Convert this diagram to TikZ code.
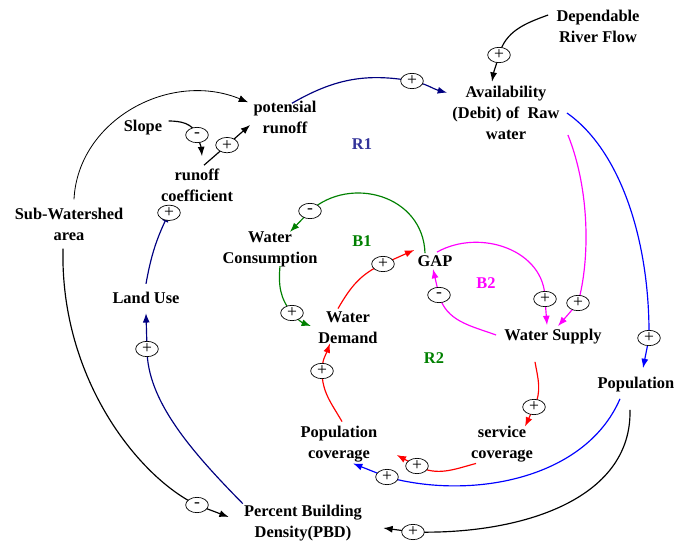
\documentclass[tikz,border=0pt]{standalone}
\usepackage{fontspec}
\setmainfont{Liberation Serif}
\usetikzlibrary{shapes.geometric,arrows.meta}
\definecolor{navy}{RGB}{0,0,128}
\definecolor{loopblue}{RGB}{51,51,153}
\definecolor{cldgreen}{RGB}{0,128,0}
\definecolor{cldmagenta}{RGB}{255,0,255}

\begin{document}
\begin{tikzpicture}[
    x=0.03cm, y=0.03cm,
    >={Latex[length=8pt,width=6pt]},
    var/.style = {align=center, font=\fontsize{14}{18}\selectfont\bfseries, inner sep=1pt},
    sign/.style = {ellipse, draw=black, text=black, fill=white, line width=0.6pt, inner sep=0pt, minimum width=0.68cm, minimum height=0.46cm, font=\fontsize{15}{15}\selectfont},
    link/.style = {->, line width=1pt},
    looplabel/.style = {font=\fontsize{14}{18}\selectfont\bfseries}
]
    \useasboundingbox (0,0) rectangle (691,-542);

    % Variables
    \node[var] (dep) at (598,-26) {Dependable\\River Flow};
    \node[var] (avail) at (506,-113) {Availability\\(Debit) of~ Raw\\water};
    \node[var] (pot) at (285,-117) {potensial\\runoff};
    \node[var] (slope) at (143,-128) {Slope};
    \node[var] (rc) at (197,-185) {runoff\\coefficient};
    \node[var] (sub) at (69,-224) {Sub-Watershed\\area};
    \node[var] (wc) at (270,-249) {Water\\Consumption};
    \node[var] (gap) at (435,-261) {GAP};
    \node[var] (wd) at (348,-328) {Water\\Demand};
    \node[var] (ws) at (553,-337) {Water Supply};
    \node[var] (popn) at (636,-385) {Population};
    \node[var] (sc) at (502,-444) {service\\coverage};
    \node[var] (pc) at (339,-444) {Population\\coverage};
    \node[var] (lu) at (146,-298) {Land Use};
    \node[var] (pbd) at (303,-523) {Percent Building\\Density(PBD)};

    % Loop labels
    \node[looplabel, text=loopblue] (r1) at (362,-144) {R1};
    \node[looplabel, text=cldgreen] (b1) at (362,-241) {B1};
    \node[looplabel, text=cldmagenta] (b2) at (486,-283) {B2};
    \node[looplabel, text=cldgreen] (r2) at (434,-358) {R2};

    % Black links
    \draw[link] ([shift={(-7,11)}]dep.west) to[out=200,in=75] (499,-55) node[sign]{+} to[out=255,in=80] ([shift={(-14,3)}]avail.north);
    \draw[link] ([shift={(5,7)}]slope.east) to[out=0,in=110] (197,-135) node[sign]{-} to[out=-70,in=95] ([shift={(5,11)}]rc.north);
    \draw[link] ([shift={(7,2)}]rc.north) -- node[sign]{+} ([shift={(-2,-8)}]pot.west);
    \draw[link, line width=0.7pt] ([shift={(5,7)}]sub.north) .. controls (78,-120) and (170,-70) .. ([shift={(-4,-3)}]pot.north west);
    \draw[link] ([shift={(-6,-7)}]sub.south) .. controls (60,-380) and (140,-478) .. (197,-505) node[sign]{-} -- ([shift={(-14,6)}]pbd.west);
    \draw[link] ([shift={(-6,-16)}]popn.south) .. controls (632,-500) and (520,-535) .. (413,-532) node[sign]{+} -- ([shift={(20,-5)}]pbd.east);

    % Navy links
    \draw[link, navy] ([shift={(7,-4)}]pot.north) to[out=30,in=170] (412,-81) node[sign]{+} to[out=-10,in=165] ([shift={(-4,-8)}]avail.north west);
    \draw[link, navy] (pbd.north west) .. controls (190,-450) and (147,-400) .. (147,-349) node[sign]{+} -- ([shift={(0,-8)}]lu.south);
    \draw[link, navy] ([shift={(0,7)}]lu.north) to[out=80,in=245] ([shift={(-28,-10)}]rc.south) node[sign]{+};

    % Blue links
    \draw[link, blue] ([shift={(6,0)}]avail.east) .. controls (620,-150) and (650,-240) .. (649,-338) node[sign]{+} -- ([shift={(7,8)}]popn.north);
    \draw[link, blue] ([shift={(-16,-5)}]popn.south) .. controls (585,-480) and (470,-500) .. (387,-477) node[sign]{+} -- ([shift={(14,0)}]pc.south);

    % Green links
    \draw[link, cldgreen] ([shift={(-10,1)}]gap.north) .. controls (423,-195) and (350,-175) .. (310,-211) node[sign]{-} -- ([shift={(20,-2)}]wc.north);
    \draw[link, cldgreen] ([shift={(10,2)}]wc.south) to[out=265,in=130] (292,-313) node[sign]{+} to[out=-50,in=160] ([shift={(-6,2)}]wd.west);

    % Red links
    \draw[link, red] ([shift={(-10,2)}]wd.north) to[out=60,in=204] (383,-264) node[sign]{+} -- ([shift={(-2,11)}]gap.west);
    \draw[link, red] ([shift={(3,3)}]pc.north) to[out=120,in=270] (322,-371) node[sign]{+} to[out=90,in=250] ([shift={(-18,2)}]wd.south);
    \draw[link, red] ([shift={(-18,-16)}]ws.south) to[out=-80,in=63] (534,-407) node[sign]{+} -- ([shift={(23,-2)}]sc.north);
    \draw[link, red] ([shift={(-26,0)}]sc.south) to[out=195,in=-27] (417,-466) node[sign]{+} -- ([shift={(18,-11)}]pc.east);

    % Magenta links
    \draw[link, cldmagenta] ([shift={(2,2)}]gap.north) .. controls (480,-228) and (545,-250) .. (545,-299) node[sign]{+} -- ([shift={(-6,3)}]ws.north);
    \draw[link, cldmagenta] ([shift={(7,-22)}]avail.east) .. controls (590,-190) and (590,-260) .. (578,-303) node[sign]{+} -- ([shift={(5,2)}]ws.north);
    \draw[link, cldmagenta] ([shift={(-7,2)}]ws.west) to[out=160,in=-75] (439,-295) node[sign]{-} -- ([shift={(-2,-1)}]gap.south);

\end{tikzpicture}
\end{document}
